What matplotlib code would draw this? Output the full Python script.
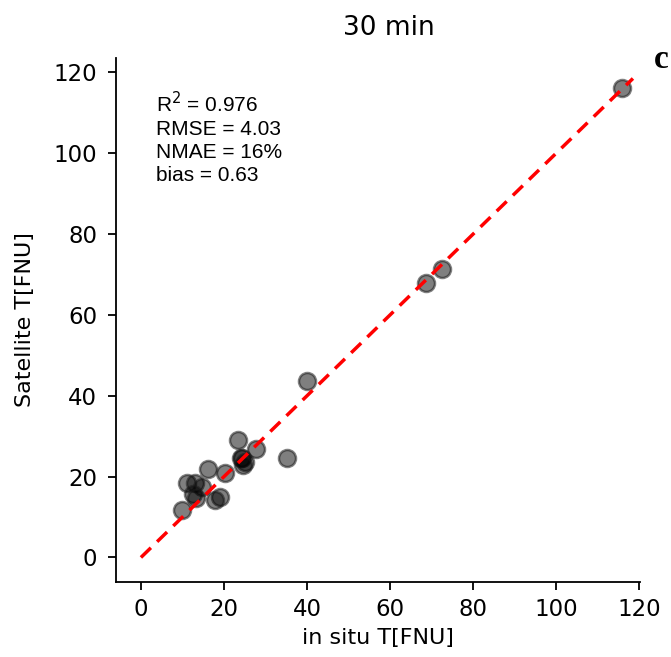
import matplotlib
matplotlib.use('Agg')
import matplotlib.pyplot as plt

# in situ vs satellite turbidity, 30 min window
insitu = [115.8, 68.7, 72.5, 40.0, 35.1, 23.4, 27.7, 24.3, 24.0, 25.1, 24.7,
          20.2, 16.2, 11.0, 13.0, 14.6, 12.5, 13.3, 19.0, 17.8, 9.8]
satellite = [116.2, 68.0, 71.3, 43.7, 24.5, 29.0, 26.8, 24.5, 24.7, 23.7, 22.9,
             21.0, 22.0, 18.5, 18.5, 17.5, 15.8, 14.6, 15.0, 14.2, 11.7]
stats = ['R$^2$ = 0.976', 'RMSE = 4.03', 'NMAE = 16%', 'bias = 0.63']
line_end = 118.5

fig = plt.figure(figsize=(6.71, 6.57), dpi=100)
ax = fig.add_axes([0.1729, 0.1146, 0.7809, 0.7967])

ax.scatter(insitu, satellite, s=150, facecolor=(0, 0, 0, 0.5),
           edgecolor=(0.1, 0.1, 0.1, 0.55), linewidth=1.8, zorder=2)
ax.plot([0, line_end], [0, line_end], color='red', linestyle='--',
        linewidth=2.5, dashes=(4, 2.5), zorder=3)

ax.set_xlim(-6, 120.2)
ax.set_ylim(-6, 123.5)
ax.set_xticks([0, 20, 40, 60, 80, 100, 120])
ax.set_yticks([0, 20, 40, 60, 80, 100, 120])
ax.tick_params(labelsize=16.5, length=5.5, width=1.3)
ax.tick_params(axis='x', pad=6)
ax.tick_params(axis='y', pad=8)
for side in ['top', 'right']:
    ax.spines[side].set_visible(False)
for side in ['left', 'bottom']:
    ax.spines[side].set_linewidth(1.3)

ax.set_xlabel('in situ T[FNU]', fontsize=16)
ax.set_ylabel('Satellite T[FNU]', fontsize=16)
ax.xaxis.set_label_coords(0.5, -0.088)
ax.yaxis.set_label_coords(-0.155, 0.5)
fig.text(0.58, 0.957, '30 min', fontsize=19, ha='center', va='center')

ax.text(0.076, 0.937, '\n'.join(stats), transform=ax.transAxes,
        fontsize=15, family='Liberation Sans', va='top', linespacing=1.25)
fig.text(0.985, 0.91, 'c', fontsize=24, family='Liberation Serif',
         fontweight='bold', ha='center', va='center')

fig.savefig('out.png', dpi=100)
